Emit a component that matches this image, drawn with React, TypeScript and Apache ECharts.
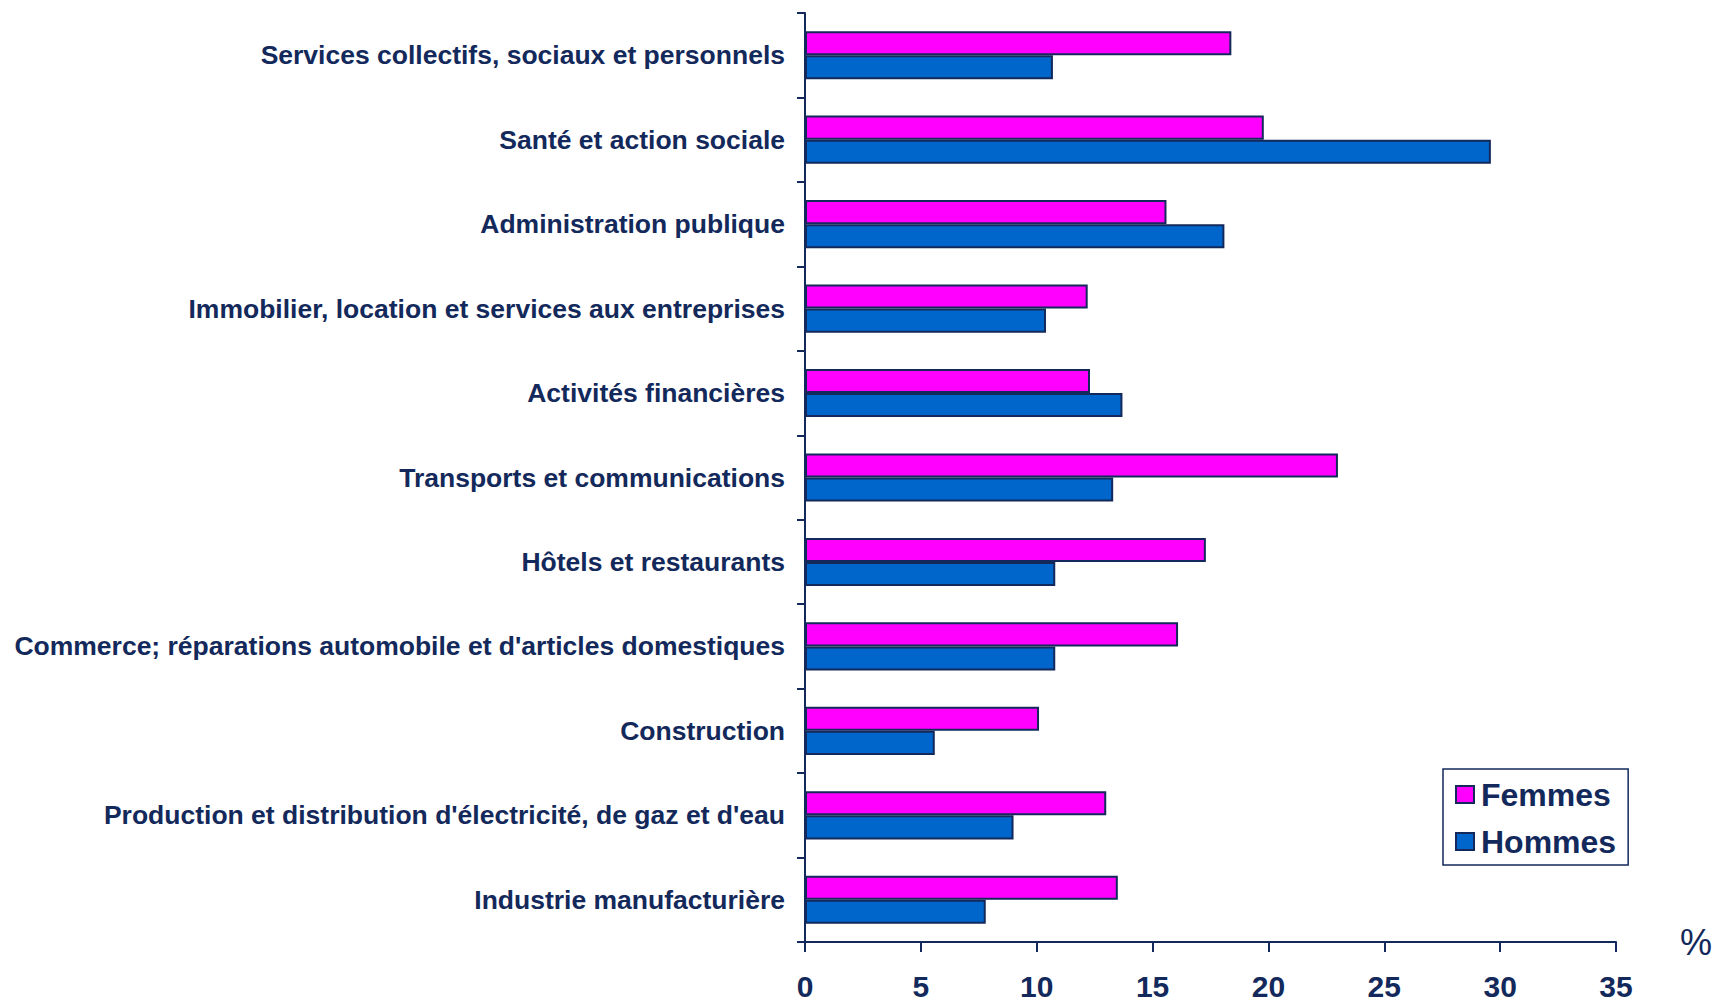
import React, { useEffect, useRef } from "react";
import * as echarts from "echarts";

const categories = [
  "Services collectifs, sociaux et personnels",
  "Santé et action sociale",
  "Administration publique",
  "Immobilier, location et services aux entreprises",
  "Activités financières",
  "Transports et communications",
  "Hôtels et restaurants",
  "Commerce; réparations automobile et d'articles domestiques",
  "Construction",
  "Production et distribution d'électricité, de gaz et d'eau",
  "Industrie manufacturière",
];

const femmes = [18.4, 19.8, 15.6, 12.2, 12.3, 23.0, 17.3, 16.1, 10.1, 13.0, 13.5];
const hommes = [10.7, 29.6, 18.1, 10.4, 13.7, 13.3, 10.8, 10.8, 5.6, 9.0, 7.8];

const xTicks = [0, 5, 10, 15, 20, 25, 30, 35];

const NAVY = "#13295b";
const FONT = "'Liberation Sans', Arial, sans-serif";

export default function App() {
  const ref = useRef<HTMLDivElement>(null);

  useEffect(() => {
    if (!ref.current) return;
    const chart = echarts.init(ref.current, null, { renderer: "svg" });
    chart.setOption({
      animation: false,
      backgroundColor: "#ffffff",
      textStyle: { fontFamily: FONT },
      grid: { left: 805, right: 95, top: 13, bottom: 63, containLabel: false },
      legend: {
        orient: "vertical",
        left: 1443,
        top: 769,
        borderColor: NAVY,
        borderWidth: 1.5,
        padding: [8, 12, 6, 12],
        itemGap: 12,
        itemWidth: 18,
        itemHeight: 17,
        icon: "rect",
        textStyle: {
          color: NAVY,
          fontSize: 32,
          fontWeight: "bold",
          fontFamily: FONT,
          lineHeight: 35,
          padding: [0, 0, 0, 2],
        },
        data: ["Femmes", "Hommes"],
      },
      xAxis: {
        type: "value",
        min: xTicks[0],
        max: xTicks[xTicks.length - 1],
        interval: 5,
        splitLine: { show: false },
        axisLine: { show: true, lineStyle: { color: NAVY, width: 2 } },
        axisTick: { show: true, length: 10, lineStyle: { color: NAVY, width: 2 } },
        axisLabel: {
          color: NAVY,
          fontSize: 30,
          fontWeight: "bold",
          fontFamily: FONT,
          margin: 29,
        },
        name: "%",
        nameLocation: "end",
        nameGap: 64,
        nameTextStyle: {
          color: NAVY,
          fontSize: 36,
          fontFamily: FONT,
          verticalAlign: "middle",
          align: "left",
          padding: [0, 0, 38, 0],
        },
      },
      yAxis: {
        type: "category",
        inverse: true,
        data: categories,
        axisLine: { show: true, lineStyle: { color: NAVY, width: 2 } },
        axisTick: { show: true, length: 8, lineStyle: { color: NAVY, width: 2 } },
        axisLabel: {
          color: NAVY,
          fontSize: 26.5,
          fontWeight: "bold",
          fontFamily: FONT,
          margin: 20,
        },
      },
      series: [
        {
          name: "Femmes",
          type: "bar",
          data: femmes,
          barGap: "0%",
          barCategoryGap: "43%",
          itemStyle: { color: "#ff00ff", borderColor: NAVY, borderWidth: 2 },
        },
        {
          name: "Hommes",
          type: "bar",
          data: hommes,
          barGap: "0%",
          barCategoryGap: "43%",
          itemStyle: { color: "#0066cc", borderColor: NAVY, borderWidth: 2 },
        },
      ],
    });
    return () => chart.dispose();
  }, []);

  return <div ref={ref} style={{ width: 1715, height: 1005, position: "absolute", left: 0, top: 0 }} />;
}
